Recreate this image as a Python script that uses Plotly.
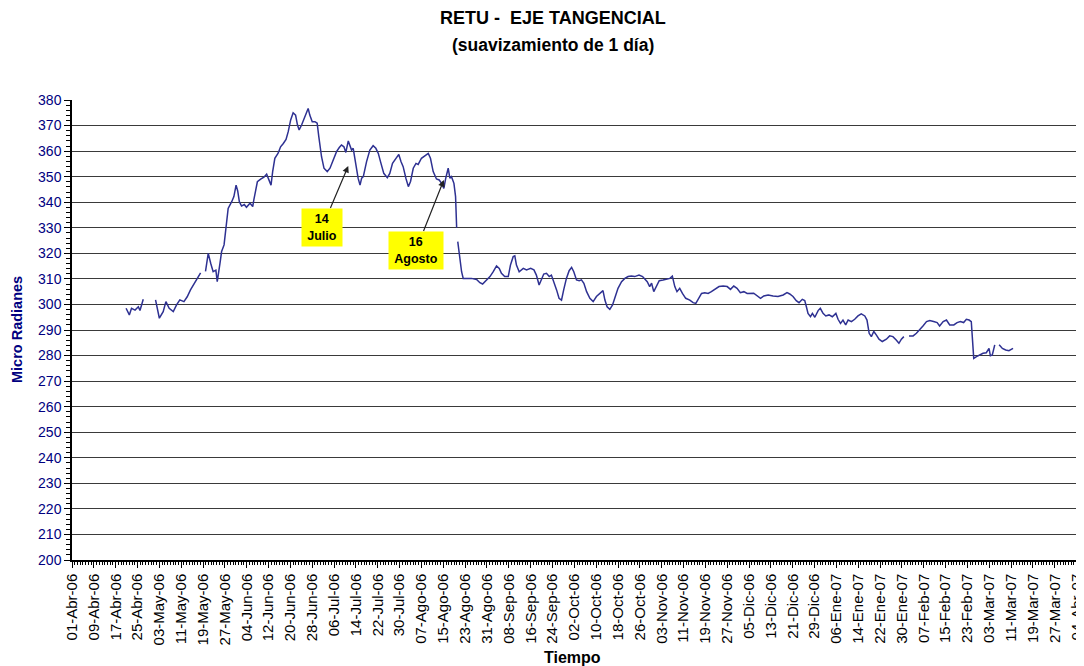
import pandas as pd
import plotly.graph_objects as go

# ---- data (days since 01-Abr-06, micro-radians); None = gap ----
day_offsets = [
    19.8, 21.0, 21.8, 23.1, 24.3, 24.9, 26.1, None,
    30.6, 32.0, 33.4, 34.4, 35.6, 37.1, 38.3, 39.5, 41.0, 42.2, 43.4, 44.4, 45.4, 46.3, 47.1, None,
    48.9, 49.9, 50.8, 51.7, 52.7, 53.2, 54.2, 54.8, 55.7, 56.4, 57.2, 58.5, 59.3, 60.1, 60.7, 61.3,
    62.1, 63.1, 63.9, 65.2, 66.2, 66.6, 67.2, 67.9, 69.1, 70.3, 71.3, 72.3, 72.9, 73.5, 74.3, 75.5,
    76.4, 77.4, 78.4, 79.2, 80.1, 81.0, 81.9, 82.6, 83.2, 84.1, 85.0, 85.9, 86.5, 87.1, 88.0, 89.0,
    89.8, 90.4, 91.4, 92.3, 93.5, 94.5, 95.7, 96.9, 97.9, 98.7, 99.6, 100.3, 101.2, 101.8, 102.4,
    103.0, 103.6, 104.2, 104.8, 105.5, 106.1, 106.7, 107.9, 109.1, 110.3, 111.3, 112.2, 113.0, 114.2,
    115.5, 116.4, 117.4, 118.6, 119.7, 120.5, 121.3, 122.3, 123.2, 124.0, 125.0, 126.0, 126.8, 128.0,
    129.3, 130.5, 131.3, 132.3, 133.5, 134.5, 135.4, 136.2, 136.9, 137.8, 138.4, 139.0, 139.9, 140.5,
    140.9, None,
    141.3, 142.1, 142.7, 143.3, 144.5, 146.3, 148.2, 149.4, 150.4, 151.6, 153.1, 154.3, 155.5, 156.5,
    157.3, 158.5, 159.8, 160.6, 161.6, 162.2, 162.8, 163.8, 165.3, 166.5, 168.0, 169.2, 170.1, 171.1,
    172.0, 172.8, 173.8, 174.8, 175.6, 176.5, 177.5, 178.4, 179.3, 180.1, 181.1, 182.1, 183.0, 183.8,
    184.8, 185.8, 186.6, 187.5, 188.5, 189.7, 190.9, 192.1, 193.3, 194.5, 195.2, 196.0, 197.0, 198.0,
    198.8, 200.0, 201.3, 202.5, 203.7, 204.9, 206.1, 207.7, 209.0, 209.8, 210.7, 211.6, 212.3, 213.1,
    214.1, 215.1, 216.5, 217.7, 219.0, 219.9, 220.8, 221.6, 222.6, 223.6, 224.8, 226.3, 227.5, 228.5,
    229.3, 230.6, 231.8, 233.0, 234.2, 235.4, 237.0, 238.5, 240.0, 241.2, 242.4, 243.6, 244.8, 246.1,
    247.3, 249.7, 250.9, 252.2, 253.4, 255.0, 256.8, 258.6, 260.5, 261.9, 262.9, 264.1, 265.3, 266.3,
    267.5, 268.4, 269.0, 269.6, 270.5, 271.2, 272.1, 273.3, 274.1, 275.1, 276.1, 277.3, 278.5, 279.8,
    280.6, 281.5, 282.4, 283.4, 284.3, 285.5, 286.7, 287.9, 289.1, 290.4, 291.2, 292.0, 292.8, 293.7,
    294.6, 295.6, 296.8, 298.3, 299.5, 300.7, 301.9, 302.9, 303.8, 304.7, None,
    306.6, 308.1, 309.3, 310.5, 311.7, 313.0, 314.2, 315.6, 316.9, 317.8, 319.1, 320.3, 321.5, 323.0,
    324.2, 325.4, 326.6, 327.6, 328.6, 329.4, 329.8, 330.3, 331.3, 332.5, 333.7, 334.9, 335.9, 336.4,
    337.1, 338.0, None,
    339.6, 340.8, 342.0, 343.2, 344.7,
]
micro_rad = [
    298.5, 295.9, 298.5, 297.8, 299.1, 297.6, 302.0, None,
    301.8, 294.6, 297.2, 301.1, 298.5, 297.2, 299.8, 301.8, 301.1, 303.0, 305.7, 307.6, 309.6, 310.9, 312.4, None,
    312.9, 320.0, 316.1, 312.8, 313.4, 308.9, 316.1, 320.7, 323.3, 330.4, 337.6, 340.2, 342.2, 346.7, 344.4, 340.2,
    338.5, 339.1, 338.0, 339.6, 338.3, 340.9, 344.1, 348.0, 349.0, 349.8, 351.0, 348.7, 346.7, 352.0, 357.2, 359.2,
    361.7, 363.0, 364.6, 367.6, 372.2, 375.0, 374.1, 370.2, 368.3, 370.2, 372.8, 375.4, 376.7, 374.1, 371.5, 371.5,
    370.9, 365.7, 357.8, 353.3, 352.0, 353.3, 356.5, 359.8, 361.4, 362.4, 361.7, 359.5, 364.0, 362.4, 360.4,
    361.1, 357.2, 352.0, 349.4, 346.7, 349.4, 350.0, 355.9, 360.4, 362.1, 361.1, 359.1, 355.9, 351.3,
    349.6, 351.3, 355.2, 357.2, 358.7, 355.9, 353.9, 349.4, 346.1, 348.1, 353.3, 355.2, 354.8, 357.2,
    358.2, 359.1, 357.2, 352.0, 349.1, 348.7, 347.4, 345.4, 349.4, 353.3, 349.4, 350.0, 347.4, 342.2,
    330.0, None,
    324.6, 318.1, 312.8, 310.2, 310.2, 310.2, 309.8, 308.5, 308.0, 309.3, 310.9, 312.8, 315.1, 314.1,
    312.2, 310.9, 310.9, 315.4, 318.7, 319.0, 315.4, 312.8, 314.1, 313.5, 314.1, 313.5, 311.5, 307.6,
    310.2, 311.9, 312.2, 310.9, 311.5, 308.9, 305.7, 302.4, 301.7, 305.7, 310.2, 313.2, 314.5, 312.8,
    309.6, 309.3, 309.6, 308.3, 305.0, 302.4, 301.1, 303.1, 304.3, 305.4, 301.7, 299.1, 298.1, 299.8,
    302.4, 306.3, 308.9, 310.2, 310.9, 311.1, 310.9, 311.5, 310.9, 309.8, 308.9, 307.0, 308.3, 305.0,
    307.0, 309.3, 309.6, 309.8, 310.2, 311.1, 307.0, 305.0, 306.3, 304.3, 302.4, 301.7, 300.7, 300.4,
    302.0, 304.3, 304.6, 304.3, 305.0, 305.9, 307.0, 307.2, 307.0, 305.9, 307.2, 306.3, 304.6, 305.0,
    304.3, 304.4, 303.3, 302.4, 303.3, 303.7, 303.3, 303.1, 303.7, 304.6, 304.1, 303.1, 301.5, 300.7,
    302.0, 301.5, 299.1, 296.5, 295.2, 296.5, 295.0, 297.6, 298.5, 296.5, 295.5, 295.9, 295.2, 296.5,
    294.2, 292.6, 293.9, 292.0, 293.9, 293.3, 294.2, 295.5, 296.3, 295.5, 293.9, 288.7, 287.4, 289.4,
    288.1, 286.4, 285.5, 286.4, 287.7, 287.4, 286.1, 284.8, 286.4, 287.4, None,
    287.7, 287.7, 288.7, 290.0, 291.6, 293.3, 293.7, 293.3, 292.9, 291.6, 293.3, 293.9, 292.0, 292.0,
    292.9, 293.3, 292.9, 294.2, 293.9, 293.3, 286.1, 278.9, 279.6, 280.2, 280.9, 281.1, 282.8, 279.9,
    280.2, 284.2, None,
    284.2, 282.8, 282.2, 281.9, 282.8,
]

start_date = "2006-04-01"
end_date = "2007-04-04"
month_abbr = ["Ene", "Feb", "Mar", "Abr", "May", "Jun", "Jul", "Ago", "Sep", "Oct", "Nov", "Dic"]
tick_dates = pd.date_range(start_date, end_date, freq="8D")
tick_labels = [f"{d.day:02d}-{month_abbr[d.month - 1]}-{d.strftime('%y')}" for d in tick_dates]

# annotations: (label, arrow-tip day, tip value, box-centre day, box-centre value, box width)
notes = [
    ("14<br>Julio", 101.2, 354.2, 91.7, 330.3, 36),
    ("16<br>Agosto", 136.2, 348.7, 126.0, 321.3, 50),
]

t0 = pd.Timestamp(start_date)
xs = [None if d is None else t0 + pd.Timedelta(days=d) for d in day_offsets]

FONT = "Liberation Sans, Arial, sans-serif"
NAVY = "#000080"

fig = go.Figure()
fig.add_trace(go.Scatter(
    x=xs, y=micro_rad, mode="lines",
    line=dict(color="#2E3192", width=1.5),
    connectgaps=False, showlegend=False, hoverinfo="x+y",
))

annots = []
for text, tx, ty, bx, by, w in notes:
    annots.append(dict(
        x=t0 + pd.Timedelta(days=tx), y=ty, xref="x", yref="y",
        ax=t0 + pd.Timedelta(days=bx), ay=by, axref="x", ayref="y",
        text=f"<b>{text}</b>", showarrow=True, arrowhead=2, arrowsize=1.1,
        arrowwidth=1.2, arrowcolor="#222222",
        bgcolor="#FFFF00", font=dict(family=FONT, size=12.5, color="black"),
        width=w, height=33, borderpad=2, align="center",
    ))

annots += [
    dict(text="<b>RETU -  EJE TANGENCIAL</b>", x=0.4786, y=1.178, xref="paper", yref="paper",
         showarrow=False, xanchor="center", yanchor="middle",
         font=dict(family=FONT, size=18, color="black")),
    dict(text="<b>(suavizamiento de 1 día)</b>", x=0.4786, y=1.12, xref="paper", yref="paper",
         showarrow=False, xanchor="center", yanchor="middle",
         font=dict(family=FONT, size=17.5, color="black")),
    dict(text="<b>Micro Radianes</b>", x=-0.0547, y=0.5, xref="paper", yref="paper",
         showarrow=False, textangle=-90, xanchor="center", yanchor="middle",
         font=dict(family=FONT, size=14.5, color=NAVY)),
    dict(text="<b>Tiempo</b>", x=0.4985, y=-0.213, xref="paper", yref="paper",
         showarrow=False, xanchor="center", yanchor="middle",
         font=dict(family=FONT, size=16, color="black")),
]

# the page places the figure 8px in from the top-left corner, so the figure is 8px smaller
fig.update_layout(
    width=1076, height=658,
    margin=dict(l=64, r=7, t=92, b=106, autoexpand=False),
    paper_bgcolor="white", plot_bgcolor="white",
    font=dict(family=FONT),
    annotations=annots,
    shapes=[dict(type="line", xref="paper", yref="paper", x0=1, x1=1, y0=0, y1=1,
                 line=dict(color="#808080", width=1.5))],
    xaxis=dict(
        type="date", range=[start_date, end_date + " 03:00"], automargin=False,
        tickmode="array", tickvals=tick_dates, ticktext=tick_labels,
        tickangle=-90, tickfont=dict(family=FONT, size=15, color="black"),
        ticklabeloverflow="allow",
        ticks="outside", ticklen=6, tickcolor="black", tickwidth=1,
        minor=dict(dtick=86400000, ticks="outside", ticklen=3, tickcolor="black", showgrid=False),
        showgrid=False, showline=True, linecolor="black", linewidth=1.5,
        zeroline=False,
    ),
    yaxis=dict(
        range=[200, 380], dtick=10, tick0=200, automargin=False,
        tickfont=dict(family=FONT, size=14, color=NAVY),
        ticks="outside", ticklen=6, tickcolor="black",
        minor=dict(dtick=2, ticks="outside", ticklen=4, tickcolor="black", showgrid=False),
        showgrid=True, gridcolor="#3a3a3a", gridwidth=1.3,
        showline=True, linecolor="black", linewidth=1.5, zeroline=False,
    ),
)

fig.write_html("out.html")
